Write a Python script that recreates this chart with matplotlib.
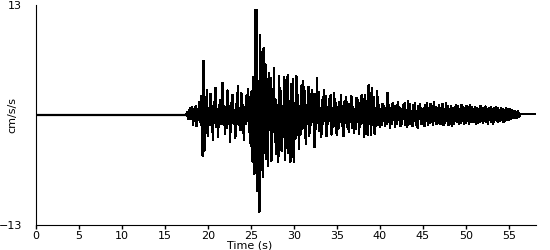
#!/usr/bin/env python3

import numpy as np
import matplotlib
matplotlib.use("Agg")
import matplotlib.pyplot as plt

# quiet part of the record before the first arrival
t_start = 17.5
dt = 0.1
quiet_t = [0.0, t_start]
quiet_a = [0.0, 0.0]

# ground acceleration (cm/s/s), one value every 0.1 s from t_start
accel = [
    0.0, 0.3, -0.4, 0.6, -0.5,
    0.8, -0.5, 0.9, -1.2, 0.6, -0.4, 1.0, -1.3, 0.7, -0.6,
    1.5, -0.8, 2.2, -1.5, -4.8, 6.4, -4.2, 1.2, -1.0, 3.0,
    -2.5, 0.8, -1.2, 2.5, -0.6, 1.0, -3.0, 1.5, -0.9, 3.2,
    -1.4, 0.7, -2.6, 1.2, -0.8, 1.8, -1.1, 3.8, -0.9, 1.0,
    -2.2, 0.9, -1.5, 2.9, -0.7, 1.1, -3.2, 1.4, -0.8, 2.4,
    -1.0, 0.6, -2.7, 1.3, -0.9, 3.4, -1.2, 0.8, -1.8, 2.6,
    -0.9, 1.2, -3.0, 0.9, -1.1, 2.3, -0.7, 3.1, -2.0, 1.0,
    -3.6, 2.8, -5.5, 4.5, -7.0, 12.4, -6.8, 12.4, -9.0, 4.0,
    -11.4, 9.5, -6.5, 5.6, -7.3, 7.9, -4.5, 6.0, -5.2, 4.2,
    -6.0, 5.0, -1.8, 4.4, -5.4, 1.5, -2.0, 5.5, -3.2, 1.8,
    -4.6, 1.2, -5.5, 4.6, -1.5, 2.8, -4.2, 1.0, -2.6, 4.5,
    -5.3, 1.4, -1.8, 4.7, -4.5, 1.6, -5.6, 3.6, -1.2, 4.2,
    -5.5, 1.4, -2.8, 4.6, -1.2, 2.4, -4.0, 1.0, -2.3, 3.5,
    -1.6, 4.0, -0.9, 2.8, -3.4, 1.2, -1.0, 3.3, -2.5, 0.8,
    -1.2, 3.0, -0.8, 2.5, -3.8, 1.1, -1.6, 4.4, -0.9, 2.7,
    -1.9, 0.8, -2.6, 1.8, -1.1, 2.9, -0.7, 2.2, -2.5, 0.9,
    -1.0, 1.9, -0.7, 2.4, -2.3, 0.8, -1.4, 2.6, -0.9, 1.4,
    -2.4, 0.9, -1.6, 1.5, -0.8, 2.3, -1.3, 0.9, -2.5, 1.6,
    -0.9, 2.1, -1.4, 0.8, -2.0, 1.3, -0.8, 2.2, -1.5, 0.9,
    -2.1, 0.7, -1.6, 2.0, -0.8, 1.8, -2.2, 0.7, -1.0, 2.3,
    -0.9, 1.9, -2.6, 2.4, -0.8, 1.6, -2.3, 3.5, -1.0, 2.6,
    -2.4, 3.2, -0.9, 2.1, -2.2, 0.8, -1.3, 2.8, -0.9, 1.2,
    -1.4, 0.7, -1.2, 1.3, -0.6, 1.0, -1.3, 0.8, -1.1, 2.6,
    -0.8, 1.2, -1.5, 0.6, -1.0, 1.4, -0.6, 1.1, -1.4, 0.7,
    -1.0, 1.5, -0.6, 0.9, -1.3, 0.7, -1.1, 1.2, -0.5, 1.4,
    -1.2, 0.6, -1.4, 1.7, -0.5, 1.3, -1.1, 0.5, -1.3, 1.2,
    -0.6, 1.4, -1.2, 0.5, -1.5, 1.1, -0.5, 1.3, -1.0, 0.6,
    -1.1, 0.8, -1.3, 1.2, -0.7, 1.4, -1.2, 0.8, -0.9, 1.3,
    -0.8, 1.1, -1.2, 1.5, -0.7, 0.9, -1.1, 0.8, -0.9, 1.2,
    -1.0, 0.8, -1.1, 1.3, -1.2, 0.7, -0.9, 1.4, -0.7, 1.0,
    -1.2, 0.7, -1.0, 1.1, -1.3, 0.8, -1.0, 0.9, -0.7, 1.2,
    -0.8, 1.0, -1.1, 0.7, -0.9, 1.2, -0.7, 0.9, -1.1, 0.8,
    -0.9, 1.1, -0.7, 0.9, -1.0, 1.2, -0.8, 0.9, -0.8, 0.7,
    -0.8, 0.9, -1.0, 0.8, -0.9, 0.7, -0.8, 1.1, -0.7, 0.8,
    -0.9, 0.8, -0.7, 1.0, -0.8, 0.7, -1.0, 0.8, -0.6, 0.9,
    -0.8, 0.7, -1.0, 0.8, -0.6, 0.9, -0.7, 0.8, -0.8, 0.6,
    -0.7, 0.8, -0.6, 0.7, -0.8, 0.6, -0.7, 0.8, -0.6, 0.7,
    -0.6, 0.7, -0.5, 0.6, -0.4, 0.5, -0.4, 0.4, -0.3, 0.3,
    -0.3, 0.4, -0.2, 0.1, 0.1, 0.1, 0.1, 0.1, 0.1, 0.1,
    0.1, 0.1, 0.1, 0.1, 0.1, 0.1, 0.1, 0.1, 0.1, 0.1,
    0.1, 0.1,
]

x_ticks = [0, 5, 10, 15, 20, 25, 30, 35, 40, 45, 50, 55]
y_ticks = [-13, 13]


def main():
    t = t_start + dt * np.arange(len(accel))

    fig = plt.figure(figsize=(5.5, 2.5), dpi=100)
    ax = fig.add_axes([0.065, 0.1, 0.91, 0.88])
    ax.plot(quiet_t, quiet_a, color='black', lw=1.6)
    ax.plot(t, accel, color='black', lw=1.0, antialiased=False)

    ax.set_xlim(0, 58.2)
    ax.set_ylim(-13, 13)
    ax.spines['top'].set_visible(False)
    ax.spines['right'].set_visible(False)
    ax.set_xticks(x_ticks)
    ax.set_yticks(y_ticks)
    ax.tick_params(axis='x', length=3, width=1, pad=1.5, labelsize=8)
    ax.tick_params(axis='y', length=0, pad=10, labelsize=8)

    fig.text(250 / 550, 1 - 245 / 250, 'Time (s)', ha='center', va='center', fontsize=8)
    fig.text(12 / 550, 1 - 115 / 250, 'cm/s/s', ha='center', va='center', rotation=90, fontsize=8)

    fig.savefig("out.png", dpi=100)


if __name__ == '__main__':
    main()
